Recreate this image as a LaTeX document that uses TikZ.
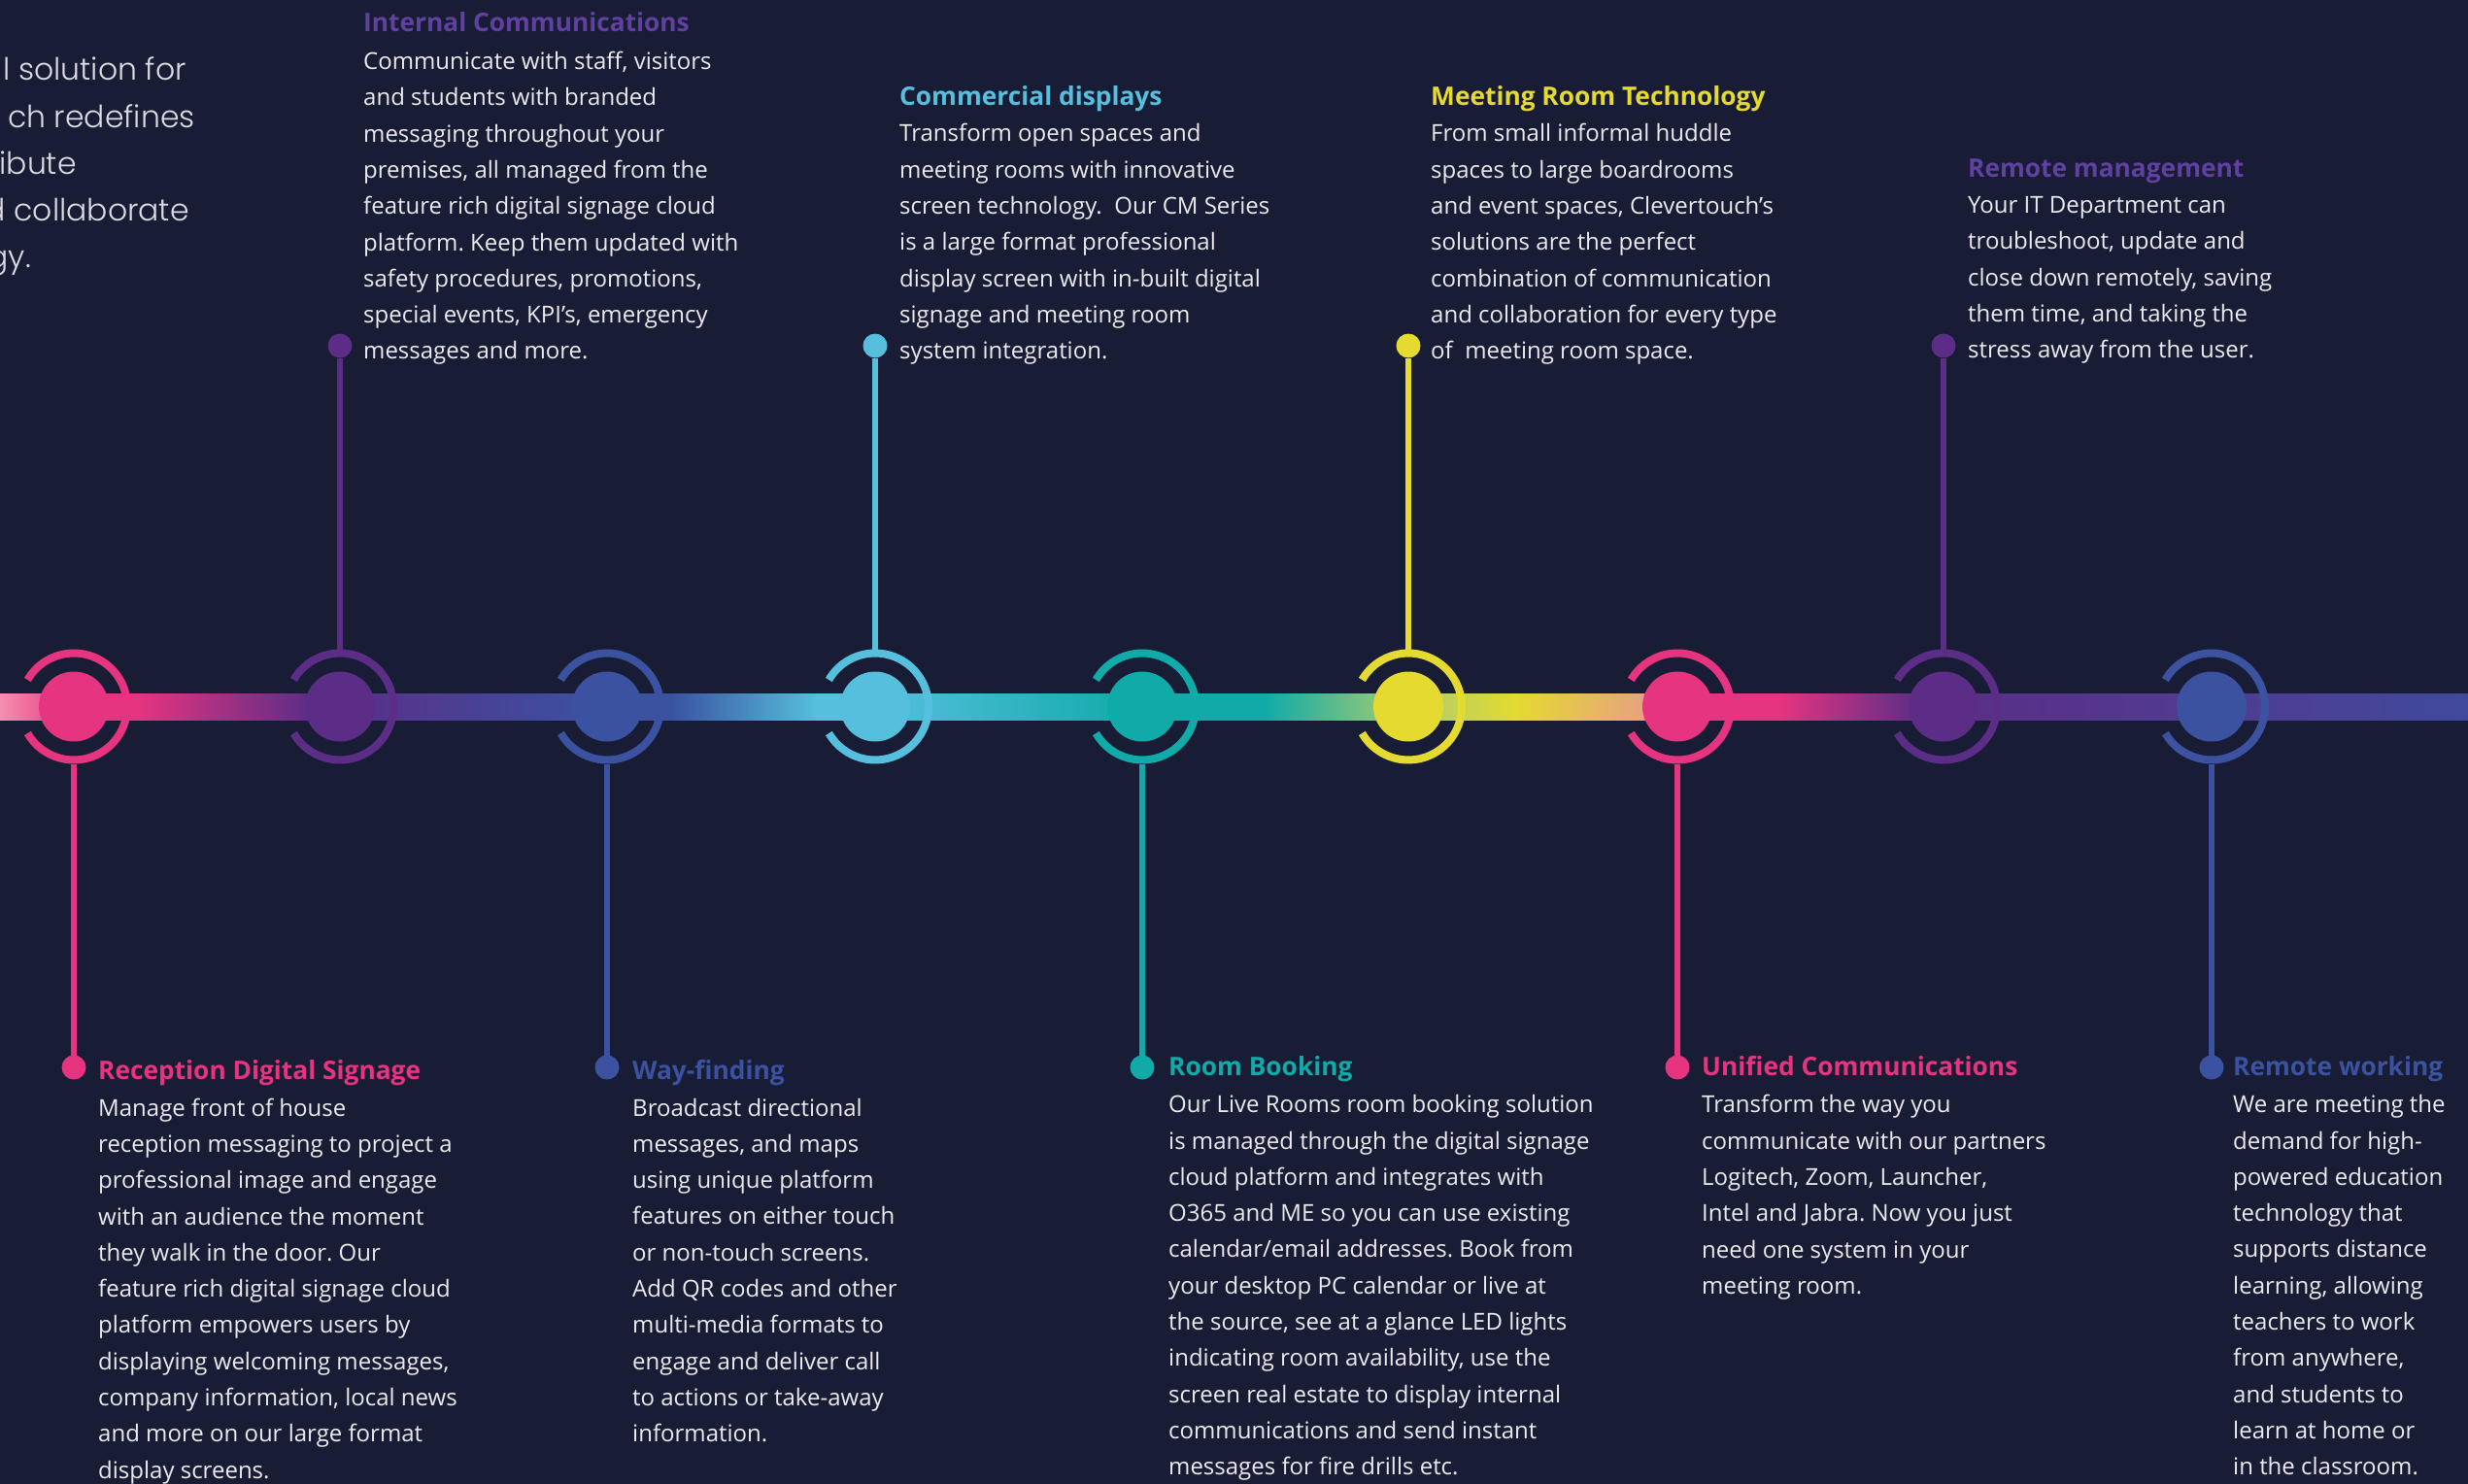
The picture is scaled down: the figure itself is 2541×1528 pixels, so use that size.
\documentclass[tikz,border=0pt]{standalone}
\usepackage{fontspec}
\setmainfont{Open Sans}
\IfFontExistsTF{Poppins Light}{\newfontfamily\introfont{Poppins Light}}{\newfontfamily\introfont{Poppins}}
\usetikzlibrary{positioning}
\frenchspacing
\definecolor{bgnavy}{HTML}{191C35}
\definecolor{textwhite}{HTML}{EBEBF0}
\definecolor{introgray}{HTML}{DCDCE4}
\definecolor{cpink}{HTML}{E73480}
\definecolor{cpurple}{HTML}{5B2D86}
\definecolor{tpurple}{HTML}{6040A0}
\definecolor{cblue}{HTML}{3A52A0}
\definecolor{clight}{HTML}{55BFDD}
\definecolor{cteal}{HTML}{10AAA8}
\definecolor{cyellow}{HTML}{E4DA30}
\definecolor{barpink}{HTML}{F48FB1}
\definecolor{barlime}{HTML}{A8CD70}
\definecolor{barpeach}{HTML}{E8A37E}
\definecolor{barviolet}{HTML}{503C91}
\definecolor{barindigo}{HTML}{404A9B}

\tikzset{
	hub/.style={circle, minimum size=118pt, inner sep=0pt, outer sep=0pt},
	knob/.style={circle, fill=#1, minimum size=25pt, inner sep=0pt, outer sep=0pt},
	stemline/.style={#1, line width=5.5pt},
	heading/.style={anchor=base west, inner sep=0pt, text=#1, font={\fontsize{26.3}{30}\selectfont\bfseries}},
	blurb/.style={anchor=north west, inner sep=0pt, align=left, text=textwhite, font={\fontsize{24}{37.3}\selectfont}},
	intro/.style={anchor=base east, inner sep=0pt, text=introgray, font={\introfont\fontsize{31.5}{48}\selectfont}}
}

\begin{document}
\begin{tikzpicture}[x=1pt, y=-1pt]
		\fill [bgnavy] (0,0) rectangle (2541,1528);
		\useasboundingbox (0,0) rectangle (2541,1528);
		\clip (0,0) rectangle (2541,1528);
		% cut-off intro text
		\node [intro] (i1) at (192,83) {l solution for};
		\node [intro] (i2) at (201,131) {ch redefines};
		\node [intro] (i3) at (79,179) {ibute};
		\node [intro] (i4) at (195,227) {d collaborate};
		\node [intro] (i5) at (32,275) {gy.};
		% timeline bar
		\foreach \xa/\ca/\xb/\cb in {0/barpink/76/cpink, 76/cpink/140/cpink, 140/cpink/320/cpurple, 320/cpurple/625/cblue, 625/cblue/690/cblue, 690/cblue/840/clight, 840/clight/901/clight, 901/clight/1176/cteal, 1176/cteal/1300/cteal, 1300/cteal/1450/barlime, 1450/barlime/1560/cyellow, 1560/cyellow/1690/barpeach, 1690/barpeach/1727/cpink, 1727/cpink/1830/cpink, 1830/cpink/1975/cpurple, 1975/cpurple/2277/barviolet, 2277/barviolet/2541/barindigo}
			\shade [left color=\ca, right color=\cb] (\xa,714) rectangle (\xb+0.6,741);
		% hubs, knobs and stems
		\foreach \n/\x/\c/\dy in {1/76/cpink/1099, 2/350/cpurple/356, 3/625/cblue/1099, 4/901/clight/356, 5/1176/cteal/1099, 6/1450/cyellow/356, 7/1727/cpink/1099, 8/2001/cpurple/356, 9/2277/cblue/1099}{
			\node [hub] (h\n) at (\x,727.5) {};
			\fill [\c] (h\n.center) circle [radius=36];
			\draw [\c, line width=8pt] (h\n.center) ++(150:55) arc [start angle=150, end angle=-150, radius=55];
			\node [knob=\c] (d\n) at (\x,\dy) {};
			\draw [stemline=\c] (d\n) -- (h\n);
		}
		% upper texts
		\node [heading=tpurple] (t2) at (374,32.7) {Internal Communications};
		\node [blurb] (b2) at (374,53) {Communicate with staff, visitors\\and students with branded\\messaging throughout your\\premises, all managed from the\\feature rich digital signage cloud\\platform. Keep them updated with\\safety procedures, promotions,\\special events, KPI’s, emergency\\messages and more.};
		\node [heading=clight] (t4) at (926,108.3) {Commercial displays};
		\node [blurb] (b4) at (926,127.3) {Transform open spaces and\\meeting rooms with innovative\\screen technology.\ \ Our CM Series\\is a large format professional\\display screen with in-built digital\\signage and meeting room\\system integration.};
		\node [heading=cyellow] (t6) at (1473,108.3) {Meeting Room Technology};
		\node [blurb] (b6) at (1473,127.3) {From small informal huddle\\spaces to large boardrooms\\and event spaces, Clevertouch’s\\solutions are the perfect\\combination of communication\\and collaboration for every type\\of\ \ meeting room space.};
		\node [heading=tpurple] (t8) at (2026,182.7) {Remote management};
		\node [blurb] (b8) at (2026,202.3) {Your IT Department can\\troubleshoot, update and\\close down remotely, saving\\them time, and taking the\\stress away from the user.};
		% lower texts
		\node [heading=cpink] (t1) at (101,1111) {Reception Digital Signage};
		\node [blurb] (b1) at (101,1130.6) {Manage front of house\\reception messaging to project a\\professional image and engage\\with an audience the moment\\they walk in the door. Our\\feature rich digital signage cloud\\platform empowers users by\\displaying welcoming messages,\\company information, local news\\and more on our large format\\display screens.};
		\node [heading=cblue] (t3) at (651,1111) {Way-finding};
		\node [blurb] (b3) at (651,1130.6) {Broadcast directional\\messages, and maps\\using unique platform\\features on either touch\\or non-touch screens.\\Add QR codes and other\\multi-media formats to\\engage and deliver call\\to actions or take-away\\information.};
		\node [heading=cteal] (t5) at (1203,1107) {Room Booking};
		\node [blurb] (b5) at (1203,1127.3) {Our Live Rooms room booking solution\\is managed through the digital signage\\cloud platform and integrates with\\O365 and ME so you can use existing\\calendar/email addresses. Book from\\your desktop PC calendar or live at\\the source, see at a glance LED lights\\indicating room availability, use the\\screen real estate to display internal\\communications and send instant\\messages for fire drills etc.};
		\node [heading=cpink] (t7) at (1752,1107) {Unified Communications};
		\node [blurb] (b7) at (1752,1127.3) {Transform the way you\\communicate with our partners\\Logitech, Zoom, Launcher,\\Intel and Jabra. Now you just\\need one system in your\\meeting room.};
		\node [heading=cblue] (t9) at (2299,1107) {Remote working};
		\node [blurb] (b9) at (2299,1127.3) {We are meeting the\\demand for high-\\powered education\\technology that\\supports distance\\learning, allowing\\teachers to work\\from anywhere,\\and students to\\learn at home or\\in the classroom.};
	\end{tikzpicture}
\end{document}
